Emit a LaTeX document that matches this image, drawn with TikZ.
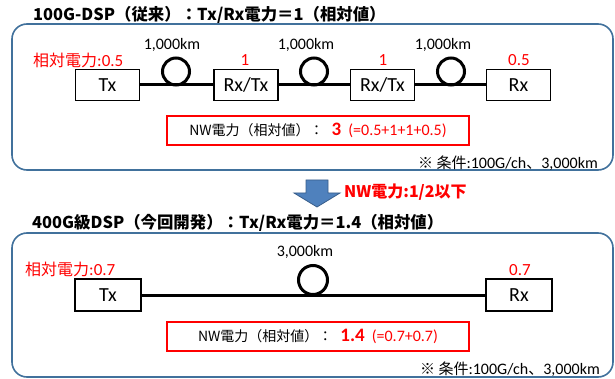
\documentclass[tikz,border=0pt]{standalone}
\usepackage{fontspec}
\setmainfont{Carlito}
\newfontfamily\jp{Noto Sans CJK JP}
\newcommand\fsz[1]{\fontsize{#1}{#1}\selectfont}
\definecolor{panelblue}{RGB}{65,113,156}
\definecolor{arrowfill}{RGB}{79,129,189}
\definecolor{arrowline}{RGB}{56,93,138}
\begin{document}
\begin{tikzpicture}[x=1pt,y=-1pt,
  title/.style={anchor=west,inner sep=0,font=\jp\bfseries\fsz{16.4}},
  panel/.style={draw=panelblue,line width=1.6pt,rounded corners=15pt,inner sep=0},
  dev/.style={draw,line width=1.3pt,minimum width=64,minimum height=31,inner sep=0,font=\fsz{20}},
  fiber/.style={line width=3pt},
  coil/.style={circle,draw,line width=3pt,minimum size=27,inner sep=0},
  km/.style={inner sep=0,font=\fsz{16}},
  rlab/.style={inner sep=0,text=red,font=\fsz{17}},
  nwbox/.style={draw=red,line width=1.3pt,minimum width=302,minimum height=29,inner sep=0,font=\fsz{16}},
  cond/.style={anchor=east,inner sep=0,font=\fsz{16}}
]
\useasboundingbox (0,0) rectangle (615,379);

% ---------- upper panel ----------
\node[title] (t1) at (33,15) {100G-DSP（従来）：Tx/Rx電力＝1（相対値）};
\node[panel,minimum width=601,minimum height=146] (p1) at (312.5,97) {};

\node[dev] (tx1) at (107.5,85) {Tx};
\node[dev] (rt1) at (246,85) {Rx/Tx};
\node[dev] (rt2) at (382.5,85) {Rx/Tx};
\node[dev] (rx1) at (518.5,85) {Rx};
\draw[fiber] (tx1) -- (rt1);
\draw[fiber] (rt1) -- (rt2);
\draw[fiber] (rt2) -- (rx1);
\node[coil] (c1) at (176,71.5) {};
\node[coil] (c2) at (314,71.5) {};
\node[coil] (c3) at (451,71.5) {};
\node[km] (k1) at (172,45) {1,000km};
\node[km] (k2) at (306,45) {1,000km};
\node[km] (k3) at (443,45) {1,000km};

\node[rlab,anchor=west] (r0) at (33,60) {{\jp\fsz{16}相対電力}:0.5};
\node[rlab] (r1) at (245,60) {1};
\node[rlab] (r2) at (383,60) {1};
\node[rlab] (r3) at (519,60) {0.5};

\node[nwbox] (nw1) at (318,130.5) {{\jp\fsz{14}NW電力（相対値）：}\hspace{8pt}{\color{red}\bfseries\fsz{19}3}\hspace{7pt}{\color{red}(=0.5+1+1+0.5)}};
\node[cond] (cd1) at (598,163) {{\jp\fsz{15}※ 条件}:100G/ch{\jp\fsz{15}、}3,000km};

% ---------- arrow ----------
\filldraw[fill=arrowfill,draw=arrowline,line width=0.8pt]
  (306,180) -- (328,180) -- (328,193) -- (340,193) -- (317,207) -- (294,193) -- (306,193) -- cycle;
\node[anchor=west,inner sep=0,text=red,font=\jp\bfseries\fsz{16}] (ar) at (344,192) {NW電力:1/2以下};

% ---------- lower panel ----------
\node[title] (t2) at (32,223) {400G級DSP（今回開発）：Tx/Rx電力＝1.4（相対値）};
\node[panel,minimum width=601,minimum height=144] (p2) at (312.5,305) {};

\node[dev,minimum width=66,minimum height=32] (tx2) at (108,295) {Tx};
\node[dev,minimum width=66,minimum height=32] (rx2) at (519,295) {Rx};
\draw[fiber] (tx2) -- (rx2);
\node[coil,minimum size=29] (c4) at (313,280) {};
\node[km] (k4) at (305,252) {3,000km};

\node[rlab,anchor=west] (r4) at (25,269) {{\jp\fsz{16}相対電力}:0.7};
\node[rlab] (r5) at (520,270) {0.7};

\node[nwbox] (nw2) at (318,336.5) {{\jp\fsz{14}NW電力（相対値）：}\hspace{8pt}{\color{red}\bfseries\fsz{19}1.4}\hspace{7pt}{\color{red}(=0.7+0.7)}};
\node[cond] (cd2) at (600,369) {{\jp\fsz{15}※ 条件}:100G/ch{\jp\fsz{15}、}3,000km};
\end{tikzpicture}
\end{document}
